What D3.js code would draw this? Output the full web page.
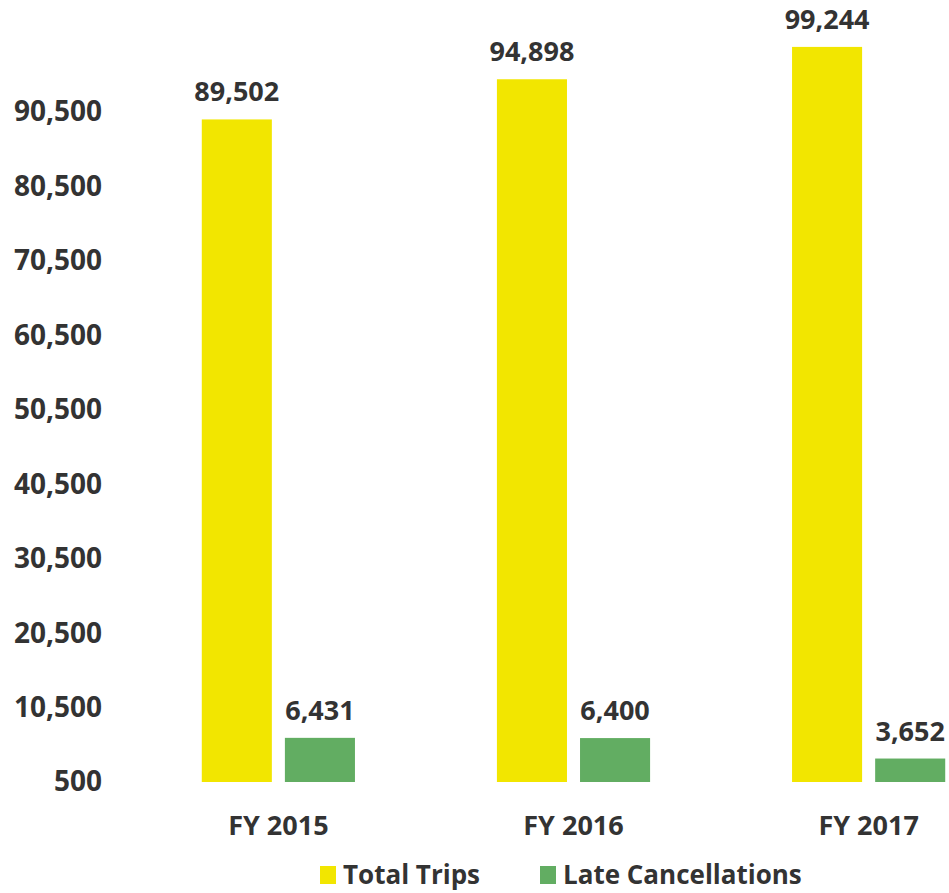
<html>
<script src="https://d3js.org/d3.v7.min.js"></script>
<style>
body { margin: 0; background: #fff; }
text { font-family: "Open Sans", sans-serif; font-weight: bold; fill: #333; }
</style>
<body>
<script>
// data
var years = ["FY 2015", "FY 2016", "FY 2017"];
var seriesNames = ["Total Trips", "Late Cancellations"];
var totalTrips = [89502, 94898, 99244];
var lateCancellations = [6431, 6400, 3652];
var tickValues = [500, 10500, 20500, 30500, 40500, 50500, 60500, 70500, 80500, 90500];

var w = 949, h = 893;
var colors = { "Total Trips": "#f2e600", "Late Cancellations": "#62ad62" };

var svg = d3.select("body").append("svg")
  .attr("width", w)
  .attr("height", h);

// y scale: 500 sits at the baseline
var yScale = d3.scaleLinear()
  .domain([500, 90500])
  .range([782, 112]);

// x scales
var xScale = d3.scaleBand()
  .domain(years)
  .range([128, 1019])
  .paddingInner(0.481)
  .paddingOuter(0.25);

var xInner = d3.scaleBand()
  .domain(seriesNames)
  .range([0, xScale.bandwidth()])
  .paddingInner(0.157);

// y axis labels (no line, no ticks)
var yAxis = d3.axisLeft(yScale)
  .tickValues(tickValues)
  .tickFormat(d3.format(","))
  .tickSize(0)
  .tickPadding(0);

var gy = svg.append("g")
  .attr("transform", "translate(102,0)")
  .call(yAxis);
gy.select(".domain").remove();
gy.selectAll("text")
  .style("font-size", "28px")
  .style("font-family", "'Open Sans', sans-serif")
  .style("font-weight", "bold")
  .attr("fill", "#333");

// build rows
var rows = [];
years.forEach(function(y, i) {
  rows.push({ year: y, series: "Total Trips", value: totalTrips[i] });
  rows.push({ year: y, series: "Late Cancellations", value: lateCancellations[i] });
});

var bars = svg.append("g");
bars.selectAll("rect")
  .data(rows)
  .enter()
  .append("rect")
  .attr("x", function(d) { return xScale(d.year) + xInner(d.series); })
  .attr("y", function(d) { return yScale(d.value); })
  .attr("width", xInner.bandwidth())
  .attr("height", function(d) { return yScale(500) - yScale(d.value); })
  .attr("fill", function(d) { return colors[d.series]; });

// value labels
bars.selectAll("text.val")
  .data(rows)
  .enter()
  .append("text")
  .attr("class", "val")
  .attr("x", function(d) { return xScale(d.year) + xInner(d.series) + xInner.bandwidth() / 2; })
  .attr("y", function(d) { return yScale(d.value) - 18; })
  .attr("text-anchor", "middle")
  .style("font-size", "27px")
  .text(function(d) { return d3.format(",")(d.value); });

// x axis labels
var xAxis = d3.axisBottom(xScale).tickSize(0).tickPadding(0);
var gx = svg.append("g")
  .attr("transform", "translate(0,816)")
  .call(xAxis);
gx.select(".domain").remove();
gx.selectAll("text")
  .style("font-size", "27px")
  .style("font-family", "'Open Sans', sans-serif")
  .style("font-weight", "bold")
  .attr("fill", "#333");

// legend
var legendX = [320, 540];
var legend = svg.append("g");
seriesNames.forEach(function(s, i) {
  legend.append("rect")
    .attr("x", legendX[i])
    .attr("y", 866)
    .attr("width", 16)
    .attr("height", 18)
    .attr("fill", colors[s]);
  legend.append("text")
    .attr("x", legendX[i] + 23)
    .attr("y", 884)
    .style("font-size", "26px")
    .text(s);
});
</script>
</body>
</html>
